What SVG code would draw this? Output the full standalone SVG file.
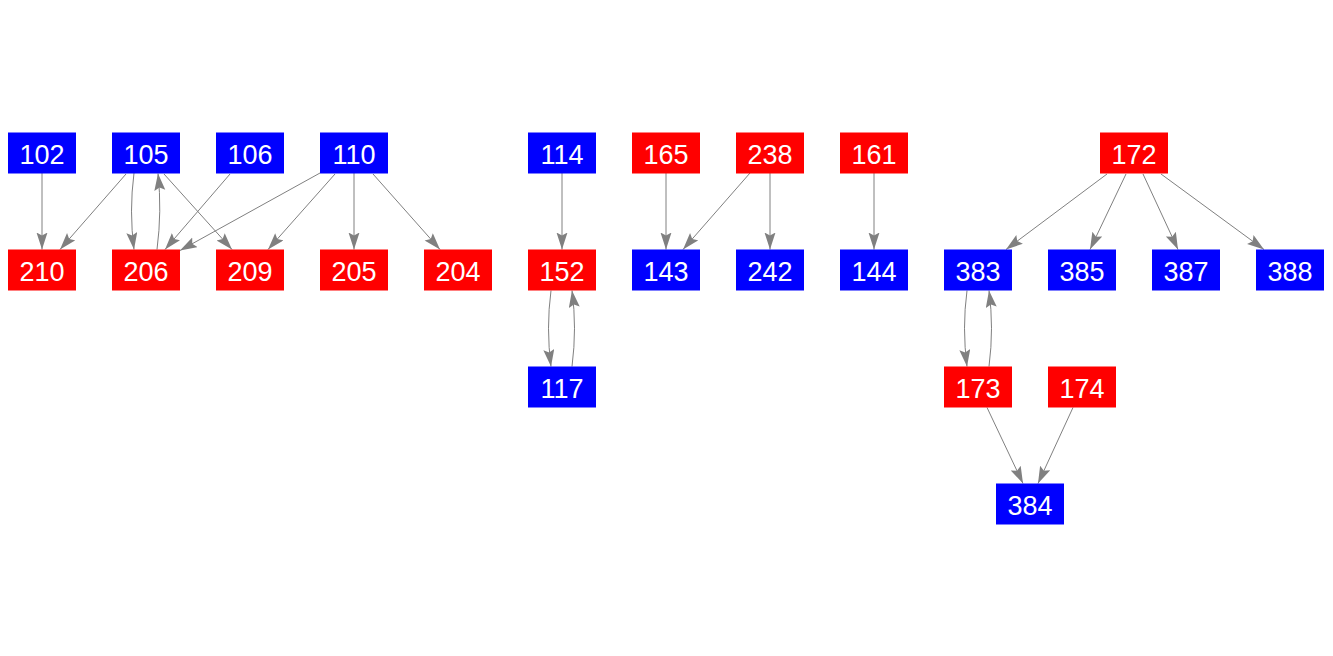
<svg xmlns="http://www.w3.org/2000/svg" width="1333" height="656" viewBox="0 0 1333 656">
<style>
.n rect{stroke:none}
.b rect{fill:#0000ff}
.r rect{fill:#ff0000}
.n text{fill:#ffffff;font-family:"Liberation Sans",Arial,sans-serif;font-size:27px;text-anchor:middle}
#edges path{fill:none;stroke:#808080;stroke-width:1;marker-end:url(#arr)}
</style>
<defs>
<marker id="arr" markerUnits="userSpaceOnUse" markerWidth="18" markerHeight="12" refX="17" refY="5.5" orient="auto">
<path d="M0,0 L17,5.5 L0,11 L3,5.5 z" fill="#808080"/>
</marker>
</defs>
<rect width="1333" height="656" fill="#ffffff"/>
<g id="edges">
<path d="M42,173 L42,249.5"/>
<path d="M126,174 L60,249.5"/>
<path d="M134,173 Q129,211 134,249.5"/>
<path d="M157,249.5 Q162,211 158,173.5"/>
<path d="M164,174 L232,249.5"/>
<path d="M230,174 L165,249.5"/>
<path d="M320,173 L180,250.5"/>
<path d="M335,174 L268,249.5"/>
<path d="M354,173 L354,249.5"/>
<path d="M373,174 L440,249.5"/>
<path d="M562,173 L562,249.5"/>
<path d="M551,290.5 Q546,328 551,366.5"/>
<path d="M572,366.5 Q577,328 572,290.5"/>
<path d="M666,173 L666,249.5"/>
<path d="M750,173 L683,249.5"/>
<path d="M770,173 L770,249.5"/>
<path d="M874,173 L874,249.5"/>
<path d="M1107,174 L1006,249.5"/>
<path d="M1126,174 L1090,249.5"/>
<path d="M1143,174 L1178,249.5"/>
<path d="M1161,174 L1264,249.5"/>
<path d="M967,290.5 Q962,328 967,366.5"/>
<path d="M989,366.5 Q994,328 989,290.5"/>
<path d="M987,407.5 L1023,483.5"/>
<path d="M1073,407.5 L1038,483.5"/>
</g>
<g id="n102" class="n b"><rect x="8" y="132.5" width="68" height="41"/><text x="42" y="163.5">102</text></g>
<g id="n105" class="n b"><rect x="112" y="132.5" width="68" height="41"/><text x="146" y="163.5">105</text></g>
<g id="n106" class="n b"><rect x="216" y="132.5" width="68" height="41"/><text x="250" y="163.5">106</text></g>
<g id="n110" class="n b"><rect x="320" y="132.5" width="68" height="41"/><text x="354" y="163.5">110</text></g>
<g id="n114" class="n b"><rect x="528" y="132.5" width="68" height="41"/><text x="562" y="163.5">114</text></g>
<g id="n165" class="n r"><rect x="632" y="132.5" width="68" height="41"/><text x="666" y="163.5">165</text></g>
<g id="n238" class="n r"><rect x="736" y="132.5" width="68" height="41"/><text x="770" y="163.5">238</text></g>
<g id="n161" class="n r"><rect x="840" y="132.5" width="68" height="41"/><text x="874" y="163.5">161</text></g>
<g id="n172" class="n r"><rect x="1100" y="132.5" width="68" height="41"/><text x="1134" y="163.5">172</text></g>
<g id="n210" class="n r"><rect x="8" y="249.5" width="68" height="41"/><text x="42" y="280.5">210</text></g>
<g id="n206" class="n r"><rect x="112" y="249.5" width="68" height="41"/><text x="146" y="280.5">206</text></g>
<g id="n209" class="n r"><rect x="216" y="249.5" width="68" height="41"/><text x="250" y="280.5">209</text></g>
<g id="n205" class="n r"><rect x="320" y="249.5" width="68" height="41"/><text x="354" y="280.5">205</text></g>
<g id="n204" class="n r"><rect x="424" y="249.5" width="68" height="41"/><text x="458" y="280.5">204</text></g>
<g id="n152" class="n r"><rect x="528" y="249.5" width="68" height="41"/><text x="562" y="280.5">152</text></g>
<g id="n143" class="n b"><rect x="632" y="249.5" width="68" height="41"/><text x="666" y="280.5">143</text></g>
<g id="n242" class="n b"><rect x="736" y="249.5" width="68" height="41"/><text x="770" y="280.5">242</text></g>
<g id="n144" class="n b"><rect x="840" y="249.5" width="68" height="41"/><text x="874" y="280.5">144</text></g>
<g id="n383" class="n b"><rect x="944" y="249.5" width="68" height="41"/><text x="978" y="280.5">383</text></g>
<g id="n385" class="n b"><rect x="1048" y="249.5" width="68" height="41"/><text x="1082" y="280.5">385</text></g>
<g id="n387" class="n b"><rect x="1152" y="249.5" width="68" height="41"/><text x="1186" y="280.5">387</text></g>
<g id="n388" class="n b"><rect x="1256" y="249.5" width="68" height="41"/><text x="1290" y="280.5">388</text></g>
<g id="n117" class="n b"><rect x="528" y="366.5" width="68" height="41"/><text x="562" y="397.5">117</text></g>
<g id="n173" class="n r"><rect x="944" y="366.5" width="68" height="41"/><text x="978" y="397.5">173</text></g>
<g id="n174" class="n r"><rect x="1048" y="366.5" width="68" height="41"/><text x="1082" y="397.5">174</text></g>
<g id="n384" class="n b"><rect x="996" y="483.5" width="68" height="41"/><text x="1030" y="514.5">384</text></g>
</svg>
